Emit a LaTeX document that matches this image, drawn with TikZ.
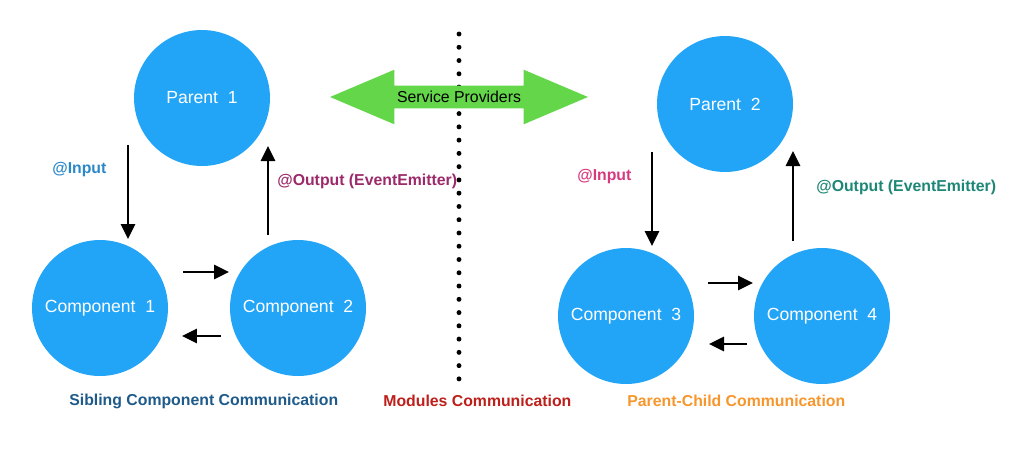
\documentclass[tikz,border=0pt]{standalone}
\usepackage{fontspec}
\setmainfont{Liberation Sans}
\usepackage{tikz}
\usetikzlibrary{arrows.meta,shapes.arrows}
\definecolor{ngblue}{HTML}{22A5F7}
\definecolor{ngpale}{HTML}{2B88C8}
\definecolor{ngplum}{HTML}{9C2A6A}
\definecolor{ngpink}{HTML}{D6397F}
\definecolor{ngteal}{HTML}{1D8775}
\definecolor{ngnavy}{HTML}{1E5A8A}
\definecolor{ngred}{HTML}{BD1F1A}
\definecolor{ngorange}{HTML}{F7962C}
\definecolor{nggreen}{HTML}{64D64A}
\tikzset{
  compnode/.style={
    circle, fill=ngblue, draw=none, text=white,
    minimum size=2.72cm, inner sep=0pt, font=\fontsize{10}{12}\selectfont},
  bindarrow/.style={
    -{Triangle[length=3mm,width=2.8mm]}, line width=1.6pt, color=black},
  bindlabel/.style={anchor=west, font=\fontsize{9}{11}\selectfont\bfseries, inner sep=0pt},
  kindlabel/.style={anchor=west, font=\fontsize{9}{11}\selectfont\bfseries, inner sep=0pt},
  modline/.style={line width=2.8pt, line cap=round, dash pattern=on 0pt off 7.55pt},
  svcarrow/.style={
    double arrow, fill=nggreen, draw=none, text=black,
    double arrow tip angle=46, double arrow head extend=0.32cm,
    minimum height=5.16cm, inner xsep=0pt, inner ysep=3pt,
    text height=6.5pt, text depth=0pt, font=\fontsize{9}{11}\selectfont},
}
\begin{document}
\begin{tikzpicture}[x=0.02cm, y=-0.02cm]
  \useasboundingbox (0,0) rectangle (1024,460);
  % sibling side
  \node[compnode] (p1) at (202,98)  {Parent\ \ 1};
  \node[compnode] (c1) at (100,308) {Component\ \ 1};
  \node[compnode] (c2) at (298,308) {Component\ \ 2};
  % parent-child side
  \node[compnode] (p2) at (725,104) {Parent\ \ 2};
  \node[compnode] (c3) at (626,316) {Component\ \ 3};
  \node[compnode] (c4) at (822,316) {Component\ \ 4};

  \coordinate (in1a) at (128,145);  \coordinate (in1b) at (128,239);
  \coordinate (out1a) at (268,235); \coordinate (out1b) at (268,146);
  \coordinate (s1a) at (183,272);   \coordinate (s1b) at (229,272);
  \coordinate (s2a) at (221,336);   \coordinate (s2b) at (182,336);
  \coordinate (in2a) at (652,152);  \coordinate (in2b) at (652,246);
  \coordinate (out2a) at (793,241); \coordinate (out2b) at (793,151);
  \coordinate (s3a) at (708,283);   \coordinate (s3b) at (753,283);
  \coordinate (s4a) at (747,344);   \coordinate (s4b) at (709,344);
  \draw[bindarrow] (in1a) -- (in1b);
  \draw[bindarrow] (out1a) -- (out1b);
  \draw[bindarrow] (s1a) -- (s1b);
  \draw[bindarrow] (s2a) -- (s2b);
  \draw[bindarrow] (in2a) -- (in2b);
  \draw[bindarrow] (out2a) -- (out2b);
  \draw[bindarrow] (s3a) -- (s3b);
  \draw[bindarrow] (s4a) -- (s4b);

  % module boundary
  \coordinate (modtop) at (459,34);
  \coordinate (modbot) at (459,380);
  \draw[modline] (modtop) -- (modbot);
  \node[svcarrow] (svc) at (459,97) {Service Providers};

  \node[bindlabel, text=ngpale] (in1)  at (52,170)  {@Input};
  \node[bindlabel, text=ngplum] (out1) at (277,181) {@Output (EventEmitter)};
  \node[bindlabel, text=ngpink] (in2)  at (577,177) {@Input};
  \node[bindlabel, text=ngteal] (out2) at (816,187) {@Output (EventEmitter)};

  \node[kindlabel, text=ngnavy]   (sib) at (69,401)  {Sibling Component Communication};
  \node[kindlabel, text=ngred]    (mod) at (383,401) {Modules Communication};
  \node[kindlabel, text=ngorange] (pc)  at (627,401) {Parent-Child Communication};
\end{tikzpicture}
\end{document}
